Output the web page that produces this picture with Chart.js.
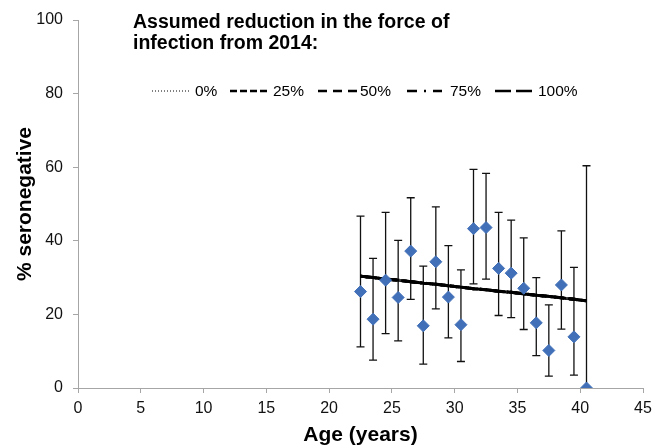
<!DOCTYPE html>
<html>
<head>
<meta charset="utf-8">
<script src="https://cdn.jsdelivr.net/npm/chart.js@4.4.1/dist/chart.umd.min.js"></script>
<style>
  html, body { margin: 0; padding: 0; background: #fff; }
  #wrap { width: 656px; height: 446px; }
</style>
</head>
<body>
<div id="wrap"><canvas id="chart" width="656" height="446"></canvas></div>
<script>
// observed data
const ages = [22.5, 23.5, 24.5, 25.5, 26.5, 27.5, 28.5, 29.5, 30.5, 31.5, 32.5, 33.5, 34.5, 35.5, 36.5, 37.5, 38.5, 39.5, 40.5];
const seroneg = [26.2, 18.7, 29.3, 24.6, 37.2, 16.9, 34.3, 24.7, 17.2, 43.3, 43.6, 32.5, 31.2, 27.1, 17.7, 10.2, 28.0, 13.9, 0];
const upper = [46.7, 35.2, 47.7, 40.1, 51.7, 33.1, 49.2, 38.7, 32.1, 59.4, 58.3, 47.7, 45.6, 40.8, 30.0, 22.6, 42.7, 32.8, 60.4];
const lower = [11.2, 7.6, 14.8, 12.8, 24.1, 6.5, 21.5, 13.6, 7.2, 28.3, 29.6, 19.7, 19.1, 15.9, 8.8, 3.2, 16.0, 3.5, 0];

// model lines (all scenarios lie on top of each other)
const scenarioLabels = ['0%', '25%', '50%', '75%', '100%'];
const modelLine = [30.4, 30.0, 29.6, 29.3, 28.9, 28.5, 28.2, 27.8, 27.4, 27.0, 26.7, 26.3, 26.0, 25.6, 25.2, 24.9, 24.5, 24.1, 23.7];
const dashes = [[1, 2], [7, 3], [9, 6], [10, 7, 2, 7], [16, 5]];

const xTicks = [0, 5, 10, 15, 20, 25, 30, 35, 40, 45];
const yTicks = [0, 20, 40, 60, 80, 100];

const FONT = '"Liberation Sans", Arial, sans-serif';

const lineSets = scenarioLabels.map((lab, i) => ({
  type: 'line',
  label: lab,
  data: ages.map((a, j) => ({ x: a, y: modelLine[j] })),
  borderColor: '#000',
  borderWidth: 3,
  borderDash: dashes[i],
  pointRadius: 0,
  fill: false,
  order: 1
}));

const errorBars = {
  id: 'errorBars',
  beforeDatasetsDraw(chart) {
    const ctx = chart.ctx;
    const xs = chart.scales.x, ys = chart.scales.y;
    ctx.save();
    ctx.strokeStyle = '#111';
    ctx.lineWidth = 1.3;
    ages.forEach((a, i) => {
      const px = xs.getPixelForValue(a);
      const top = ys.getPixelForValue(upper[i]);
      const bot = ys.getPixelForValue(lower[i]);
      ctx.beginPath();
      ctx.moveTo(px, top); ctx.lineTo(px, bot);
      if (upper[i] !== seroneg[i]) { ctx.moveTo(px - 4, top); ctx.lineTo(px + 4, top); }
      if (lower[i] !== seroneg[i]) { ctx.moveTo(px - 4, bot); ctx.lineTo(px + 4, bot); }
      ctx.stroke();
    });
    ctx.restore();
  }
};

const titleLegend = {
  id: 'titleLegend',
  afterDraw(chart) {
    const ctx = chart.ctx;
    ctx.save();
    ctx.fillStyle = '#000';
    ctx.font = 'bold 19.5px ' + FONT;
    ctx.textBaseline = 'alphabetic';
    ctx.fillText('Assumed reduction in the force of', 133, 28);
    ctx.fillText('infection from 2014:', 133, 49);

    const items = [
      { x1: 152, x2: 190, tx: 195 },
      { x1: 230, x2: 270, tx: 273 },
      { x1: 318, x2: 358, tx: 360 },
      { x1: 407, x2: 442, tx: 450 },
      { x1: 495, x2: 534, tx: 538 }
    ];
    ctx.font = '15.5px ' + FONT;
    ctx.textBaseline = 'middle';
    items.forEach((it, i) => {
      const ds = chart.data.datasets[i + 1];
      ctx.beginPath();
      ctx.setLineDash(ds.borderDash);
      ctx.strokeStyle = '#000';
      ctx.lineWidth = i === 0 ? 1 : 2.5;
      ctx.moveTo(it.x1, 91); ctx.lineTo(it.x2, 91);
      ctx.stroke();
      ctx.setLineDash([]);
      ctx.fillText(ds.label, it.tx, 92);
    });
    ctx.restore();
  }
};

new Chart(document.getElementById('chart'), {
  type: 'scatter',
  data: {
    datasets: [{
      type: 'scatter',
      label: 'observed',
      data: ages.map((a, i) => ({ x: a, y: seroneg[i] })),
      backgroundColor: '#4170B8',
      borderColor: '#4170B8',
      borderWidth: 1,
      pointStyle: 'rectRot',
      pointRadius: 6,
      pointHoverRadius: 6,
      order: 0
    }].concat(lineSets)
  },
  options: {
    responsive: false,
    animation: false,
    events: [],
    layout: { padding: { left: 0, right: 13, top: 20, bottom: 0 } },
    plugins: { legend: { display: false }, tooltip: { enabled: false }, title: { display: false } },
    scales: {
      x: {
        type: 'linear',
        min: 0, max: 45,
        afterBuildTicks(axis) { axis.ticks = xTicks.map(v => ({ value: v })); },
        afterFit(axis) { axis.height = 58; axis.paddingRight = 0; axis.paddingLeft = 0; },
        grid: { drawOnChartArea: false, color: '#a6a6a6', tickLength: 5 },
        border: { color: '#a6a6a6' },
        ticks: { color: '#111', font: { family: FONT, size: 16 }, padding: 6, maxRotation: 0 },
        title: { display: true, text: 'Age (years)', color: '#000', font: { family: FONT, size: 21, weight: 'bold' }, padding: { top: 0, bottom: -2 } }
      },
      y: {
        min: 0, max: 100,
        afterBuildTicks(axis) { axis.ticks = yTicks.map(v => ({ value: v })); },
        afterFit(axis) { axis.width = 78; },
        grid: { drawOnChartArea: false, color: '#a6a6a6', tickLength: 5 },
        border: { color: '#a6a6a6' },
        ticks: { color: '#111', font: { family: FONT, size: 16 }, padding: 10 },
        title: { display: true, text: '% seronegative', color: '#000', font: { family: FONT, size: 21, weight: 'bold' }, padding: { top: 13, bottom: 0 } }
      }
    }
  },
  plugins: [errorBars, titleLegend]
});
</script>
</body>
</html>
